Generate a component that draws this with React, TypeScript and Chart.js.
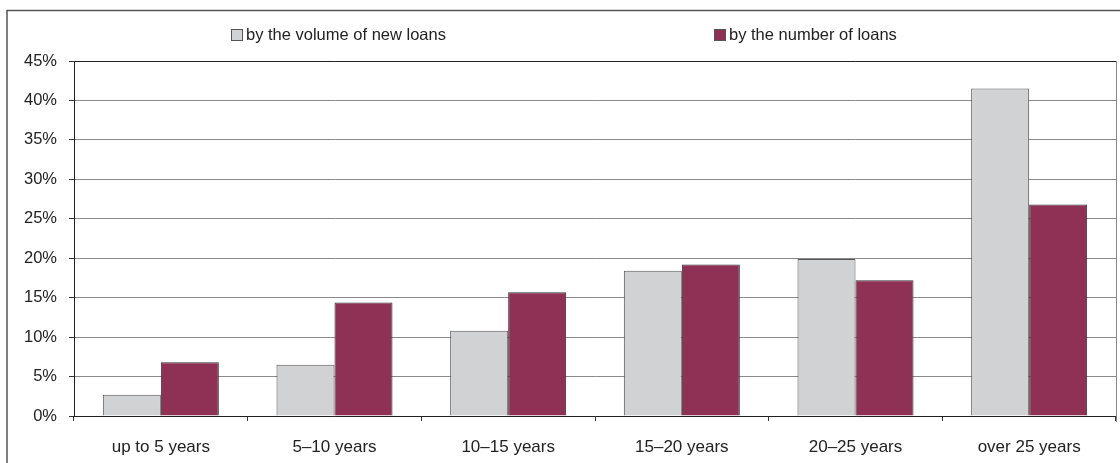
import React, { useEffect, useRef } from "react";
import { Chart, registerables } from "chart.js";

Chart.register(...registerables);

const categories = ["up to 5 years", "5–10 years", "10–15 years", "15–20 years", "20–25 years", "over 25 years"];
const volumeShare = [2.7, 6.5, 10.8, 18.4, 19.9, 41.5];
const numberShare = [6.8, 14.4, 15.7, 19.2, 17.2, 26.8];
const seriesLabels = ["by the volume of new loans", "by the number of loans"];
const seriesColors = ["#d1d2d4", "#8f3055"];
const legendX = [231, 714];

const FONT = "'Liberation Sans', Arial, sans-serif";

const framePlugin = {
  id: "frameAndLegend",
  afterDraw(chart: any) {
    const ctx = chart.ctx;
    const a = chart.chartArea;
    ctx.save();
    // outer frame
    ctx.strokeStyle = "#555";
    ctx.lineWidth = 1.5;
    ctx.strokeRect(7, 10.5, 1300, 1000);
    // top plot border
    ctx.lineWidth = 1;
    ctx.strokeStyle = "#222";
    ctx.beginPath();
    ctx.moveTo(a.left, Math.round(a.top) + 0.5);
    ctx.lineTo(a.right, Math.round(a.top) + 0.5);
    ctx.stroke();
    // right plot border
    ctx.strokeStyle = "#888";
    ctx.beginPath();
    ctx.moveTo(Math.round(a.right) + 0.5, a.top);
    ctx.lineTo(Math.round(a.right) + 0.5, a.bottom + 6);
    ctx.stroke();
    // legend
    ctx.font = "16.5px " + FONT;
    ctx.textBaseline = "alphabetic";
    ctx.textAlign = "left";
    seriesLabels.forEach((label, i) => {
      const x = legendX[i];
      ctx.fillStyle = seriesColors[i];
      ctx.fillRect(x, 29.5, 11, 11);
      ctx.strokeStyle = "#555";
      ctx.strokeRect(x + 0.5, 29.5, 11, 11);
      ctx.fillStyle = "#222";
      ctx.fillText(label, x + 15, 40);
    });
    ctx.restore();
  },
};

export default function App() {
  const ref = useRef<HTMLCanvasElement | null>(null);
  useEffect(() => {
    if (!ref.current) return;
    const chart = new Chart(ref.current, {
      type: "bar",
      data: {
        labels: categories,
        datasets: [
          {
            label: seriesLabels[0],
            data: volumeShare,
            backgroundColor: seriesColors[0],
            borderColor: "#555",
            borderWidth: 1,
            categoryPercentage: 0.668,
            barPercentage: 1,
          },
          {
            label: seriesLabels[1],
            data: numberShare,
            backgroundColor: seriesColors[1],
            borderColor: "#333",
            borderWidth: 1,
            categoryPercentage: 0.668,
            barPercentage: 1,
          },
        ],
      },
      options: {
        animation: false,
        responsive: false,
        maintainAspectRatio: false,
        layout: { padding: { left: 0, top: 61, right: 4, bottom: 0 } },
        plugins: {
          legend: { display: false },
          tooltip: { enabled: false },
        },
        scales: {
          x: {
            offset: true,
            grid: {
              display: true,
              offset: true,
              drawOnChartArea: false,
              drawTicks: true,
              tickLength: 5,
              tickColor: "#333",
            },
            border: { display: true, color: "#222", width: 1 },
            ticks: {
              color: "#222",
              font: { family: FONT, size: 17 },
              padding: 16,
              maxRotation: 0,
              autoSkip: false,
            },
            afterFit: (s: any) => {
              s.height = 47;
            },
          },
          y: {
            min: 0,
            max: 45,
            grid: {
              color: "#8a8a8a",
              lineWidth: 1,
              drawTicks: true,
              tickLength: 5,
              tickColor: "#333",
            },
            border: { display: true, color: "#222", width: 1 },
            ticks: {
              stepSize: 5,
              color: "#222",
              font: { family: FONT, size: 16.5 },
              padding: 12,
              callback: (v: any) => v + "%",
            },
            afterFit: (s: any) => {
              s.width = 74;
            },
          },
        },
      },
      plugins: [framePlugin],
    });
    return () => chart.destroy();
  }, []);
  return (
    <div style={{ position: "absolute", left: 0, top: 0, width: 1120, height: 463, background: "#fff" }}>
      <canvas ref={ref} width={1120} height={463} style={{ display: "block" }} />
    </div>
  );
}
